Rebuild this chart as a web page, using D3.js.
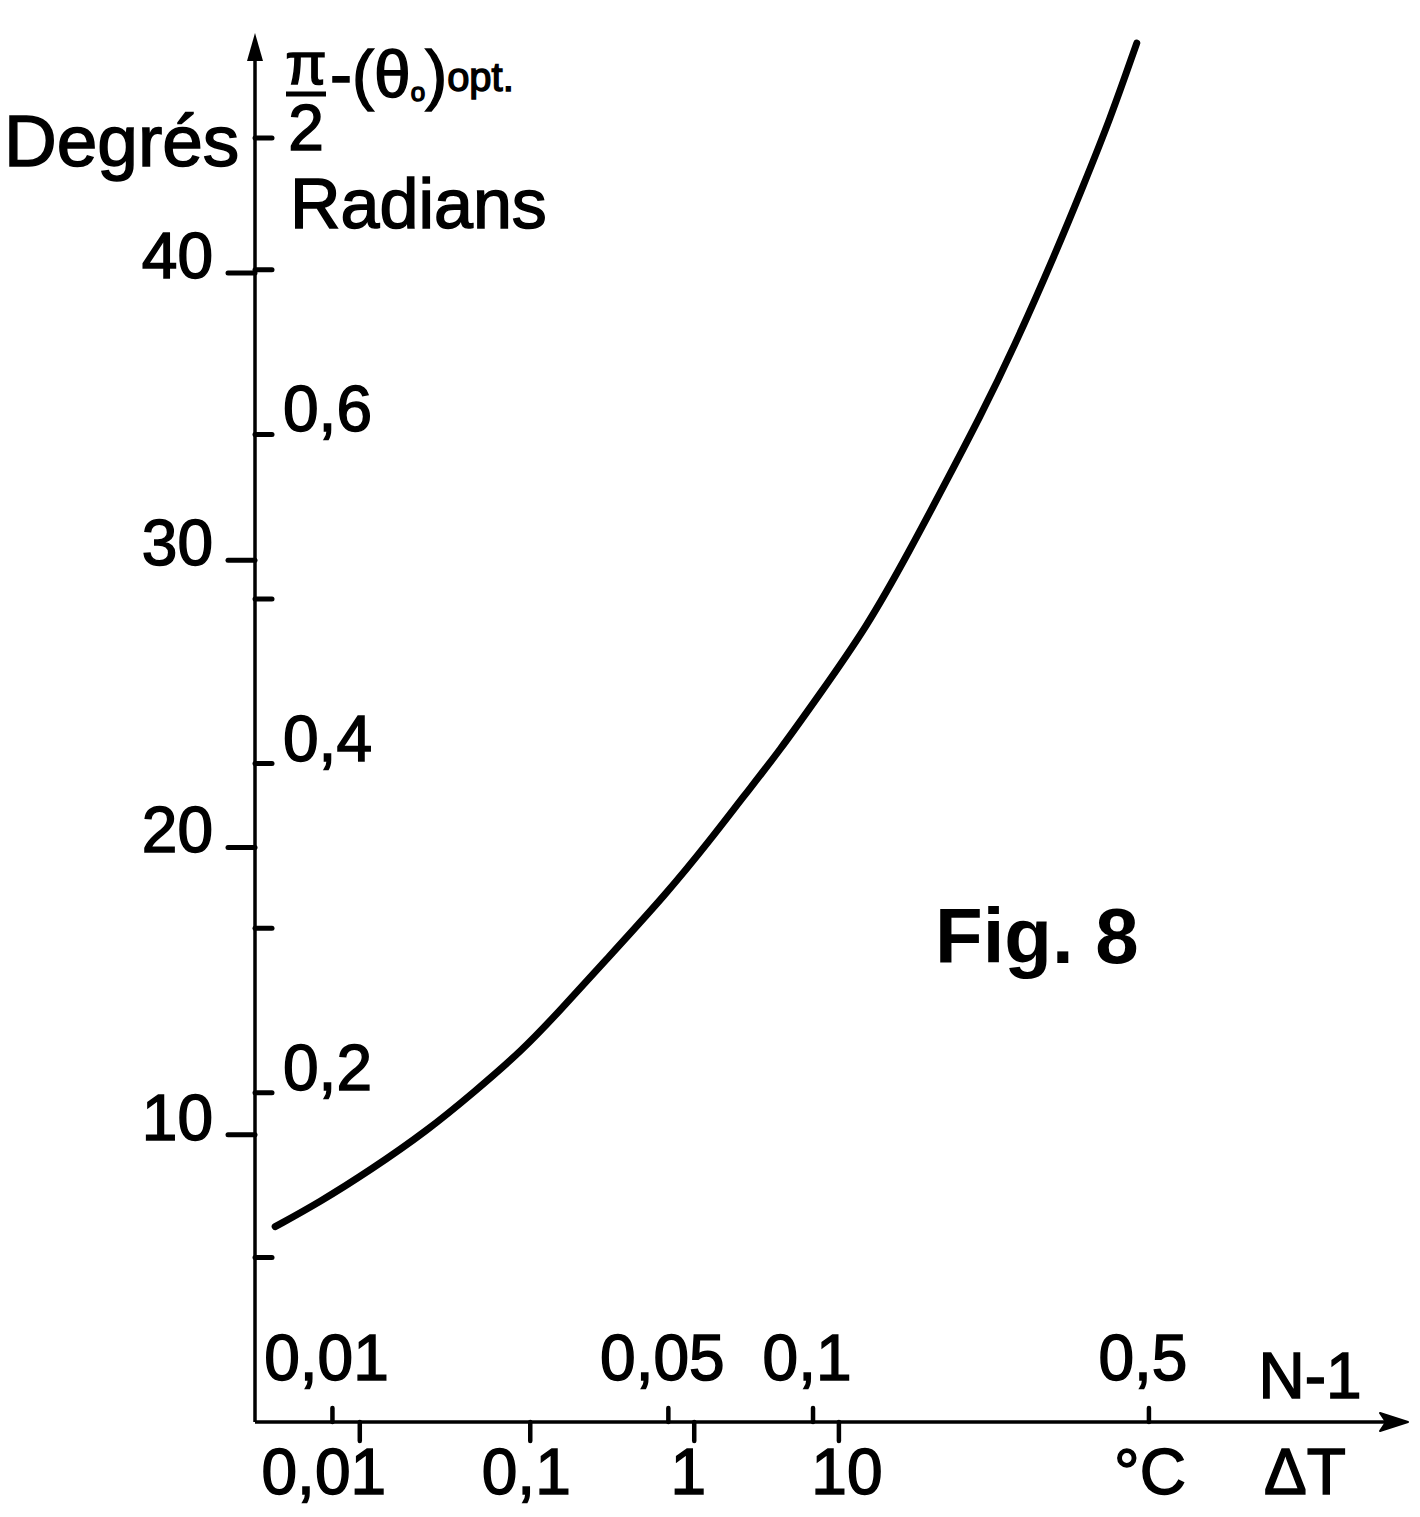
<!DOCTYPE html>
<html>
<head>
<meta charset="utf-8">
<script src="https://cdn.jsdelivr.net/npm/d3@7"></script>
<style>
  body { margin: 0; background: #fff; }
  svg { display: block; }
  text { font-family: "Liberation Sans", Arial, sans-serif; fill: #000; }
</style>
</head>
<body>
<svg id="chart" width="1420" height="1517"></svg>
<script>
// curve: N-1 (log axis) vs pi/2 - (theta0)opt in degrees
const n1Values = [0.0076, 0.0094, 0.0120, 0.0158, 0.0196, 0.0249, 0.0298, 0.0366, 0.0497, 0.0611,
    0.0715, 0.0854, 0.1019, 0.1295, 0.1591, 0.1900, 0.2225, 0.2604, 0.3216,
    0.3641, 0.4145, 0.4717];
const degValues = [6.8, 7.65, 8.77, 10.16, 11.45, 12.95, 14.34, 15.98, 18.41, 20.26,
    21.75, 23.39, 25.2, 27.67, 30.35, 32.79, 34.98, 37.31, 40.79,
    42.99, 45.32, 48.0];

// axis extents
const n1Extent = [0.0069, 1.73];
const degExtent = [0, 48.35];

// degree axis (left)
const degTicks = [10, 20, 30, 40];
// radian axis (right), the last tick is unlabeled
const radTicks = [0.1, 0.2, 0.3, 0.4, 0.5, 0.6, 0.7, 0.78];
const radLabels = { 0.2: '0,2', 0.4: '0,4', 0.6: '0,6' };

// N-1 ticks above the horizontal axis
const n1Ticks = [0.01, 0.05, 0.1, 0.5];
const n1Labels = ['0,01', '0,05', '0,1', '0,5'];

// Delta T ticks below the axis, placed at their equivalent N-1 value
const dtTicksN1 = [0.0114, 0.0258, 0.0566, 0.1132];
const dtLabels = ['0,01', '0,1', '1', '10'];

const svg = d3.select('#chart');

const x = d3.scaleLog().domain(n1Extent).range([255, 1408]);
const y = d3.scaleLinear().domain(degExtent).range([1422, 33]);
const yRad = d3.scaleLinear().domain(degExtent.map(d => d * Math.PI / 180)).range(y.range());

const x0 = x(n1Extent[0]);
const y0 = y(0);

// axes lines
svg.append('line').attr('x1', x0).attr('x2', x0).attr('y1', y0).attr('y2', y(degExtent[1]) + 20)
    .attr('stroke', '#000').attr('stroke-width', 3.5);
svg.append('line').attr('x1', x0).attr('x2', x(n1Extent[1]) - 20).attr('y1', y0).attr('y2', y0)
    .attr('stroke', '#000').attr('stroke-width', 3.5);

// arrow heads
const topY = y(degExtent[1]);
svg.append('path')
    .attr('d', `M${x0},${topY} L${x0 - 8},${topY + 28} L${x0 + 8},${topY + 28} Z`)
    .attr('fill', '#000');
const rightX = x(n1Extent[1]);
svg.append('path')
    .attr('d', `M${rightX},${y0} L${rightX - 28},${y0 - 9} L${rightX - 22},${y0} L${rightX - 28},${y0 + 9} Z`)
    .attr('fill', '#000').attr('stroke', '#000').attr('stroke-width', 2).attr('stroke-linejoin', 'round');

const labelStyle = sel => sel.attr('font-size', 64).attr('stroke', '#000').attr('stroke-width', 1.5);

// degree ticks + labels (left)
svg.selectAll('.degTick').data(degTicks).enter().append('line')
    .attr('x1', x0 - 27).attr('x2', x0).attr('y1', d => y(d)).attr('y2', d => y(d))
    .attr('stroke', '#000').attr('stroke-width', 5).attr('stroke-linecap', 'round');
svg.selectAll('.degLabel').data(degTicks).enter().append('text')
    .attr('x', x0 - 42).attr('y', d => y(d) + 5)
    .attr('text-anchor', 'end')
    .call(labelStyle)
    .text(d => d);

// radian ticks + labels (right)
svg.selectAll('.radTick').data(radTicks).enter().append('line')
    .attr('x1', x0).attr('x2', x0 + 17).attr('y1', d => yRad(d)).attr('y2', d => yRad(d))
    .attr('stroke', '#000').attr('stroke-width', 5).attr('stroke-linecap', 'round');
svg.selectAll('.radLabel').data(radTicks.filter(d => radLabels[d])).enter().append('text')
    .attr('x', x0 + 28).attr('y', d => yRad(d) - 3)
    .call(labelStyle)
    .text(d => radLabels[d]);

// N-1 ticks (above) and labels
svg.selectAll('.n1Tick').data(n1Ticks).enter().append('line')
    .attr('x1', d => x(d)).attr('x2', d => x(d)).attr('y1', y0 - 14).attr('y2', y0)
    .attr('stroke', '#000').attr('stroke-width', 4.5).attr('stroke-linecap', 'round');
svg.selectAll('.n1Label').data(n1Ticks).enter().append('text')
    .attr('x', d => x(d) - 6).attr('y', y0 - 42)
    .attr('text-anchor', 'middle')
    .call(labelStyle)
    .text((d, i) => n1Labels[i]);

// Delta T ticks (below) and labels; hand lettering is a little off-centre
const dtShift = [-36, -4, -6, 8];
svg.selectAll('.dtTick').data(dtTicksN1).enter().append('line')
    .attr('x1', d => x(d)).attr('x2', d => x(d)).attr('y1', y0).attr('y2', y0 + 19)
    .attr('stroke', '#000').attr('stroke-width', 4.5).attr('stroke-linecap', 'round');
svg.selectAll('.dtLabel').data(dtTicksN1).enter().append('text')
    .attr('x', (d, i) => x(d) + dtShift[i]).attr('y', y0 + 72)
    .attr('text-anchor', 'middle')
    .call(labelStyle)
    .text((d, i) => dtLabels[i]);

// axis names
svg.append('text').attr('x', 1310).attr('y', y0 - 24).attr('text-anchor', 'middle')
    .call(labelStyle).text('N-1');
svg.append('text').attr('x', 1150).attr('y', y0 + 72).attr('text-anchor', 'middle')
    .call(labelStyle).text('°C');
svg.append('text').attr('x', 1305).attr('y', y0 + 72).attr('text-anchor', 'middle')
    .call(labelStyle).text('ΔT');

svg.append('text').attr('x', 4).attr('y', 166)
    .attr('font-size', 73).attr('stroke', '#000').attr('stroke-width', 1.5).text('Degrés');
svg.append('text').attr('x', 290).attr('y', 228)
    .attr('font-size', 70).attr('stroke', '#000').attr('stroke-width', 1.5).text('Radians');

// formula  pi/2 - (theta0)opt.
svg.append('text').attr('x', 306).attr('y', 84).attr('text-anchor', 'middle')
    .attr('font-size', 60).attr('stroke', '#000').attr('stroke-width', 1.5).text('π');
svg.append('line').attr('x1', 286).attr('x2', 326).attr('y1', 94).attr('y2', 94)
    .attr('stroke', '#000').attr('stroke-width', 5);
svg.append('text').attr('x', 306).attr('y', 150).attr('text-anchor', 'middle')
    .attr('font-size', 64).attr('stroke', '#000').attr('stroke-width', 1.5).text('2');
const formula = svg.append('text').attr('x', 330).attr('y', 97)
    .attr('stroke', '#000').attr('stroke-width', 1.4);
formula.append('tspan').attr('font-size', 66).text('-(θ');
formula.append('tspan').attr('font-size', 26).attr('dy', 4).text('o');
formula.append('tspan').attr('font-size', 66).attr('dy', -4).text(')');
formula.append('tspan').attr('font-size', 40).attr('dy', -6).text('opt.');

// Fig. 8
svg.append('text').attr('x', 935).attr('y', 963)
    .attr('font-size', 78).attr('font-weight', 'bold').text('Fig. 8');

// the curve
const points = n1Values.map((d, i) => [d, degValues[i]]);
const line = d3.line()
    .x(d => x(d[0]))
    .y(d => y(d[1]))
    .curve(d3.curveBasis);
svg.append('path').datum(points)
    .attr('d', line)
    .attr('fill', 'none').attr('stroke', '#000').attr('stroke-width', 7)
    .attr('stroke-linecap', 'round');
</script>
</body>
</html>
